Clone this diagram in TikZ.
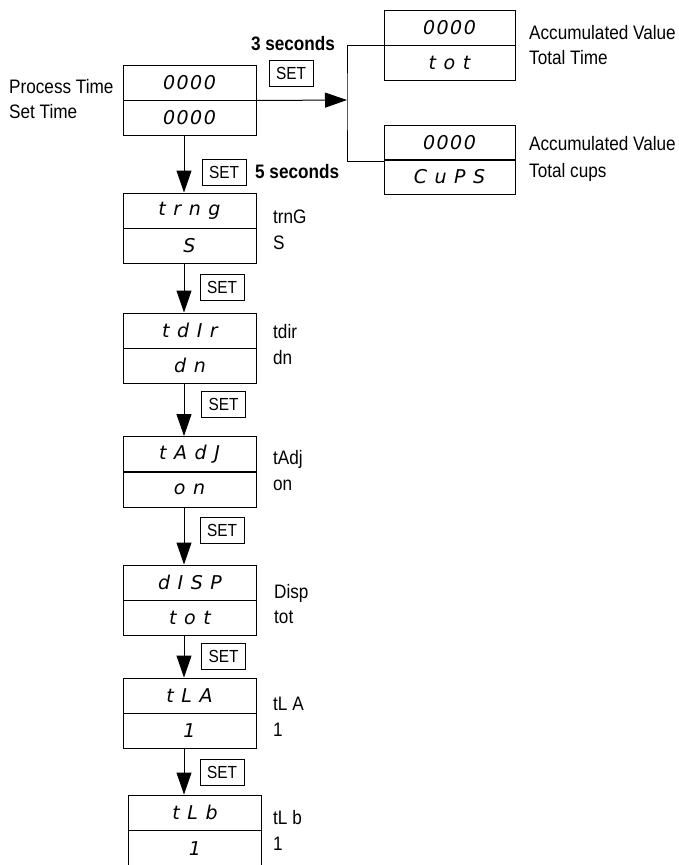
\documentclass[tikz,border=0pt]{standalone}
\usepackage{fontspec}
\setmainfont{Liberation Sans}[FakeStretch=0.88]
\newfontfamily\segfont{DejaVu Sans}[LetterSpace=8]
\usetikzlibrary{arrows.meta}
\newcommand\segdisp{\segfont\itshape\fontsize{19}{21}\selectfont}
\begin{document}
\begin{tikzpicture}[x=1pt,y=-1pt,
  disp/.style={draw, line width=1pt, minimum width=133pt, minimum height=35pt, inner sep=0pt, font=\segdisp},
  dispr/.style={disp, minimum width=131pt},
  lbl/.style={anchor=west, inner sep=0pt, text height=14pt, text depth=0pt, font=\fontsize{19.5}{23}\selectfont},
  blbl/.style={lbl, font=\fontsize{19.5}{23}\selectfont\bfseries},
  setbox/.style={draw, line width=0.8pt, minimum width=44pt, minimum height=26pt, inner sep=0pt, font=\fontsize{17.5}{19}\selectfont},
  arr/.style={line width=1pt, -{Triangle[width=15pt,length=22pt]}},
  conn/.style={line width=1pt}]
\useasboundingbox (0,0) rectangle (678,865);
\coordinate (ax) at (184,0);
% main display
\node[disp] (mT) at (189.5,82.5) {0000};
\node[disp] (mB) at (189.5,117.5) {0000};
\node[lbl] (lp1) at (9,86) {Process Time};
\node[lbl] (lp2) at (9,111.5) {Set Time};
% right displays
\node[dispr] (r1T) at (449.5,27.5) {0000};
\node[dispr] (r1B) at (449.5,62.5) {t o t};
\node[lbl] (lr11) at (529,32) {Accumulated Value};
\node[lbl] (lr12) at (529,57) {Total Time};
\node[dispr] (r2T) at (449.5,143) {0000};
\node[dispr] (r2B) at (449.5,177) {C u P S};
\node[lbl] (lr21) at (529,143) {Accumulated Value};
\node[lbl] (lr22) at (529,170) {Total cups};
% 3 seconds branch
\node[blbl, anchor=center] (s3) at (293,43) {3 seconds};
\node[setbox] (set0) at (291,73) {SET};
\coordinate (j) at (347,100);
\draw[arr] (mT.south east) -- (j);
\draw[conn] (r1T.south west) -| (j) |- (r2T.south west);
% chain
\node[disp] (aT) at (189.5,210.5) {t r n g};
\node[disp] (aB) at (189.5,245.5) {S};
\node[lbl] (la1) at (273,216) {trnG};
\node[lbl] (la2) at (273,242) {S};
\node[setbox] (set1) at (224,172) {SET};
\node[blbl] (s5) at (255,171) {5 seconds};
\draw[arr] (mB.south -| ax) -- (aT.north -| ax);

\node[disp] (bT) at (190,330.5) {t d I r};
\node[disp] (bB) at (190,365.5) {d n};
\node[lbl] (lb1) at (273,331) {tdir};
\node[lbl] (lb2) at (273,357) {dn};
\node[setbox] (set2) at (222,287) {SET};
\draw[arr] (aB.south -| ax) -- (bT.north -| ax);

\node[disp] (cT) at (189.5,454) {t A d J};
\node[disp] (cB) at (189.5,489.5) {o n};
\node[lbl] (lc1) at (273,457) {tAdj};
\node[lbl] (lc2) at (273,483) {on};
\node[setbox] (set3) at (223.5,404) {SET};
\draw[arr] (bB.south -| ax) -- (cT.north -| ax);

\node[disp] (dT) at (190,582.5) {d I S P};
\node[disp] (dB) at (190,617.5) {t o t};
\node[lbl] (ld1) at (274,591) {Disp};
\node[lbl] (ld2) at (274,616) {tot};
\node[setbox] (set4) at (222,530) {SET};
\draw[arr] (cB.south -| ax) -- (dT.north -| ax);

\node[disp] (eT) at (189.5,695.5) {t L A};
\node[disp] (eB) at (189.5,730.5) {1};
\node[lbl] (le1) at (273,703) {tL A};
\node[lbl] (le2) at (273,729) {1};
\node[setbox] (set5) at (223.5,656) {SET};
\draw[arr] (dB.south -| ax) -- (eT.north -| ax);

\node[disp] (fT) at (195,812.5) {t L b};
\node[disp, minimum height=37pt] (fB) at (195,848.5) {1};
\node[lbl] (lf1) at (273,817) {tL b};
\node[lbl] (lf2) at (273,843) {1};
\node[setbox] (set6) at (222,772) {SET};
\draw[arr] (eB.south -| ax) -- (fT.north -| ax);
\end{tikzpicture}
\end{document}
